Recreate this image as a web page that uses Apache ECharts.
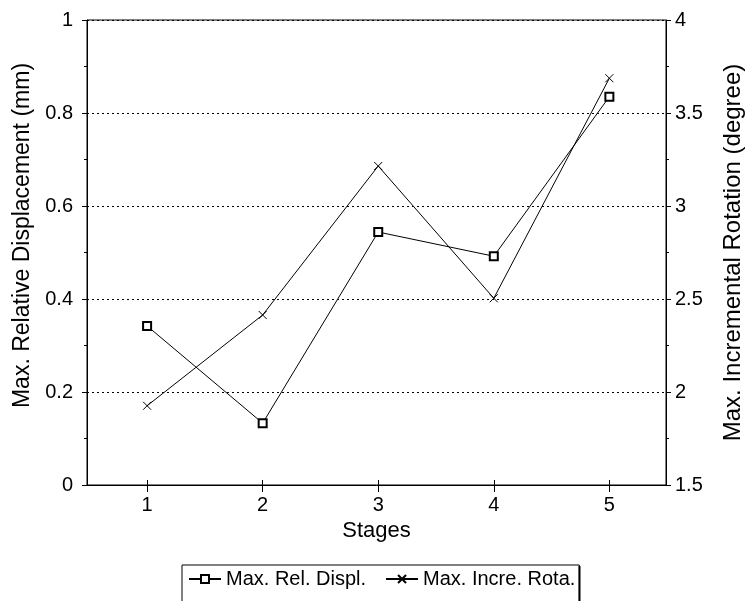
<!DOCTYPE html>
<html>
<head>
<meta charset="utf-8">
<script src="https://cdn.jsdelivr.net/npm/echarts@6/dist/echarts.min.js"></script>
<style>html,body{margin:0;padding:0;background:#fff;}#c{width:753px;height:601px;}</style>
</head>
<body>
<div id="c"></div>
<script>
var stages = [1, 2, 3, 4, 5];
var relDispl = [0.342, 0.133, 0.544, 0.492, 0.835];
var increRota = [1.926, 2.414, 3.215, 2.504, 3.687];
var leftTicks = [0, 0.2, 0.4, 0.6, 0.8, 1];
var rightTicks = [1.5, 2, 2.5, 3, 3.5, 4];

var FONT = 'Liberation Sans, Arial, sans-serif';
var chart = echarts.init(document.getElementById('c'), null, {renderer: 'canvas'});
var xPath = 'path://M0,0L10,10M10,0L0,10';

var option = {
  animation: false,
  backgroundColor: '#fff',
  textStyle: {fontFamily: FONT, color: '#000'},
  grid: {left: 87, right: 75, top: 20, bottom: 116, show: true, borderColor: '#000', borderWidth: 1, backgroundColor: 'transparent'},
  legend: {
    left: 182, top: 565,
    padding: [4, 4, 24, 6],
    itemGap: 19,
    itemWidth: 32, itemHeight: 10,
    borderColor: '#000', borderWidth: 1,
    textStyle: {fontFamily: FONT, fontSize: 20, color: '#000'},
    data: ['Max. Rel. Displ.', 'Max. Incre. Rota.']
  },
  graphic: [{
    type: 'line', silent: true,
    shape: {x1: 579.5, y1: 566, x2: 579.5, y2: 601},
    style: {stroke: '#000', lineWidth: 2}
  }],
  xAxis: [{
    type: 'value', min: 0.48, max: 5.49,
    name: 'Stages', nameLocation: 'middle', nameGap: 34,
    nameTextStyle: {fontFamily: FONT, fontSize: 22, color: '#000'},
    axisLine: {show: true, lineStyle: {color: '#000', width: 1}},
    axisTick: {show: true, length: 7, customValues: stages, lineStyle: {color: '#000'}},
    axisLabel: {show: true, margin: 10, customValues: stages, fontFamily: FONT, fontSize: 20, color: '#000'},
    splitLine: {show: false}
  }, {
    type: 'value', min: 0.48, max: 5.49, position: 'bottom',
    axisLine: {show: false},
    axisTick: {show: true, inside: true, length: 5, customValues: stages, lineStyle: {color: '#000'}},
    axisLabel: {show: false},
    splitLine: {show: false}
  }],
  yAxis: [{
    type: 'value', min: 0, max: 1, interval: 0.2, position: 'left',
    name: 'Max. Relative Displacement (mm)', nameLocation: 'middle', nameGap: 51,
    nameTextStyle: {fontFamily: FONT, fontSize: 23, color: '#000', padding: [0, 0, 0, 34]},
    axisLine: {show: true, lineStyle: {color: '#000', width: 1}},
    axisTick: {show: true, length: 5, lineStyle: {color: '#000'}},
    minorTick: {show: true, splitNumber: 2, length: 3, lineStyle: {color: '#000'}},
    axisLabel: {margin: 14, fontFamily: FONT, fontSize: 20, color: '#000', formatter: function (v) { return String(+v.toFixed(1)); }},
    splitLine: {show: true, lineStyle: {color: '#000', width: 1, type: [2, 3]}}
  }, {
    type: 'value', min: 1.5, max: 4, interval: 0.5, position: 'right',
    name: 'Max. Incremental Rotation (degree)', nameLocation: 'middle', nameGap: 55,
    nameTextStyle: {fontFamily: FONT, fontSize: 24, color: '#000'},
    axisLine: {show: true, lineStyle: {color: '#000', width: 1}},
    axisTick: {show: true, length: 5, lineStyle: {color: '#000'}},
    minorTick: {show: true, splitNumber: 2, length: 3, lineStyle: {color: '#000'}},
    axisLabel: {margin: 9, fontFamily: FONT, fontSize: 20, color: '#000', formatter: function (v) { return String(+v.toFixed(1)); }},
    splitLine: {show: false}
  }],
  series: [{
    name: 'Max. Rel. Displ.', type: 'line', xAxisIndex: 0, yAxisIndex: 0,
    data: stages.map(function (s, i) { return [s, relDispl[i]]; }),
    symbol: 'emptyRect', symbolSize: 8,
    lineStyle: {color: '#000', width: 1},
    itemStyle: {color: '#000', borderColor: '#000', borderWidth: 1}
  }, {
    name: 'Max. Incre. Rota.', type: 'line', xAxisIndex: 0, yAxisIndex: 1,
    data: stages.map(function (s, i) { return [s, increRota[i]]; }),
    symbol: xPath, symbolSize: 8,
    lineStyle: {color: '#000', width: 1},
    itemStyle: {color: '#000', borderColor: '#000', borderWidth: 1}
  }]
};
chart.setOption(option);
</script>
</body>
</html>
